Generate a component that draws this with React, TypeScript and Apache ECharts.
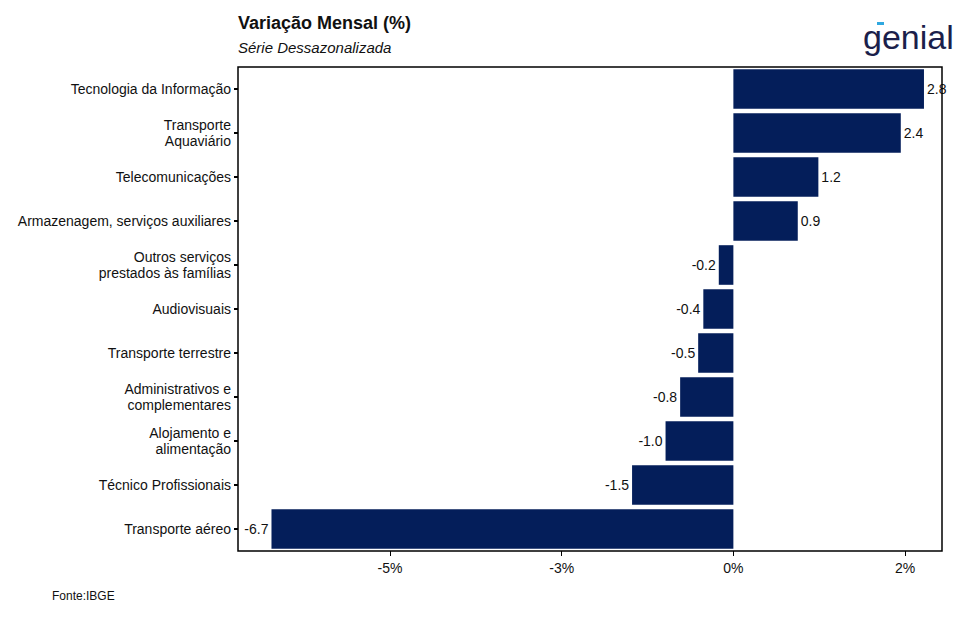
import { useEffect, useRef } from "react";
import * as echarts from "echarts";

// categories top to bottom
const categories = [
  "Tecnologia da Informação",
  "Transporte\nAquaviário",
  "Telecomunicações",
  "Armazenagem, serviços auxiliares",
  "Outros serviços\nprestados às famílias",
  "Audiovisuais",
  "Transporte terrestre",
  "Administrativos e\ncomplementares",
  "Alojamento e\nalimentação",
  "Técnico Profissionais",
  "Transporte aéreo",
];
// labels printed on the bars
const valueLabels = [2.8, 2.4, 1.2, 0.9, -0.2, -0.4, -0.5, -0.8, -1.0, -1.5, -6.7];
// bar lengths as drawn on the axis
const barLengths = [2.22, 1.95, 0.99, 0.75, -0.17, -0.35, -0.41, -0.62, -0.79, -1.18, -5.38];
const tickValues = [-4, -2, 0, 2];
const tickLabels = ["-5%", "-3%", "0%", "2%"];

const font = "'Liberation Sans', Arial, sans-serif";

export default function App() {
  const ref = useRef<HTMLDivElement>(null);

  useEffect(() => {
    if (!ref.current) return;
    const ch = echarts.init(ref.current, null, { renderer: "svg" });
    const cats = [...categories].reverse();
    const lens = [...barLengths].reverse();
    const labs = [...valueLabels].reverse();
    ch.setOption({
      animation: false,
      textStyle: { fontFamily: font },
      graphic: [
        { type: "text", left: 230, top: 6, style: { text: "Variação Mensal (%)", font: `bold 18px ${font}`, fill: "#111" } },
        { type: "text", left: 230, top: 32, style: { text: "Série Dessazonalizada", font: `italic 15px ${font}`, fill: "#111" } },
        { type: "text", left: 44, top: 582, style: { text: "Fonte:IBGE", font: `12px ${font}`, fill: "#111" } },
        { type: "text", left: 855, top: 12, style: { text: "genial", font: `34px ${font}`, fill: "#1b1f4b" } },
        { type: "rect", shape: { x: 869, y: 14, width: 7, height: 3 }, style: { fill: "#2fa8e0" } },
        { type: "rect", shape: { x: 230, y: 59, width: 704, height: 484 }, style: { fill: "none", stroke: "#000", lineWidth: 1.5 }, z: 10 },
      ],
      grid: { left: 230, right: 24, top: 59, bottom: 61 },
      xAxis: {
        type: "value",
        min: -5.77,
        max: 2.43,
        splitLine: { show: false },
        axisLine: { show: false },
        axisTick: { show: true, customValues: tickValues, length: 5, lineStyle: { color: "#000" } },
        axisLabel: {
          customValues: tickValues,
          color: "#111",
          fontSize: 14,
          margin: 10,
          formatter: (v: number) => tickLabels[tickValues.indexOf(v)] ?? "",
        },
      },
      yAxis: {
        type: "category",
        data: cats,
        axisLine: { show: false, onZero: false },
        axisTick: { show: true, alignWithLabel: true, length: 4, lineStyle: { color: "#000", width: 2 } },
        axisLabel: { color: "#111", fontSize: 14, lineHeight: 16, align: "right", margin: 7 },
      },
      series: [
        {
          type: "bar",
          barCategoryGap: "10%",
          itemStyle: { color: "#041e5a" },
          data: lens.map((v, i) => ({
            value: v,
            label: {
              show: true,
              position: v >= 0 ? "right" : "left",
              distance: 3,
              color: "#111",
              fontSize: 14,
              formatter: labs[i].toFixed(1),
            },
          })),
        },
      ],
    });
    return () => ch.dispose();
  }, []);

  return <div ref={ref} style={{ width: 958, height: 604 }} />;
}
